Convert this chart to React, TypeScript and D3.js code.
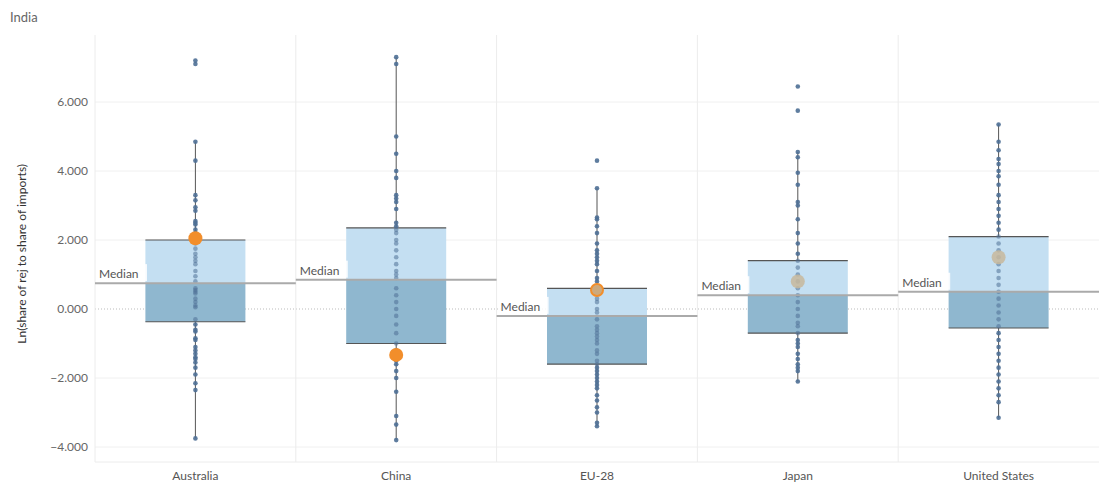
import React from "react";
import * as d3 from "d3";

const categories = ["Australia", "China", "EU-28", "Japan", "United States"];
const q1 = [-0.37, -1.0, -1.6, -0.7, -0.55];
const q3 = [2.0, 2.35, 0.6, 1.4, 2.1];
const medians = [0.75, 0.85, -0.2, 0.4, 0.5];
const whiskerLow = [-3.75, -3.8, -3.4, -2.1, -3.15];
const whiskerHigh = [4.85, 7.3, 3.5, 4.55, 5.35];
const highlight = [2.05, -1.33, 0.55, 0.8, 1.5];
const highlightOrange = [true, true, true, false, false];
const points: number[][] = [
  [7.2, 7.1, 4.85, 4.3, 3.3, 3.15, 2.95, 2.85, 2.55, 2.5, 2.45, 2.3, 2.2, 2.1, 1.9, 1.75, 1.6, 1.5, 1.4, 1.3, 1.1, 0.95, 0.8, 0.6, 0.55, 0.5, 0.45, 0.3, 0.2, 0.1, 0.05, -0.3, -0.45, -0.6, -0.65, -0.85, -0.9, -1.1, -1.2, -1.3, -1.4, -1.45, -1.55, -1.7, -1.9, -2.15, -2.35, -3.75],
  [7.3, 7.1, 5.0, 4.5, 4.0, 3.8, 3.3, 3.2, 3.1, 2.9, 2.5, 2.4, 2.3, 2.2, 2.0, 1.9, 1.7, 1.5, 1.3, 1.1, 1.0, 0.9, 0.6, 0.4, 0.2, 0.0, -0.2, -0.45, -0.7, -1.0, -1.2, -1.35, -1.5, -1.6, -1.8, -2.0, -2.4, -3.1, -3.35, -3.8],
  [4.3, 3.5, 2.65, 2.6, 2.4, 2.2, 1.9, 1.7, 1.6, 1.5, 1.4, 1.3, 1.1, 0.9, 0.8, 0.6, 0.5, 0.3, 0.2, 0.0, -0.1, -0.3, -0.5, -0.6, -0.7, -0.8, -0.9, -1.0, -1.2, -1.3, -1.5, -1.6, -1.7, -1.8, -1.9, -2.0, -2.1, -2.2, -2.3, -2.5, -2.65, -2.85, -3.0, -3.3, -3.4],
  [6.45, 5.75, 4.55, 4.4, 3.95, 3.6, 3.1, 3.0, 2.6, 2.2, 1.9, 1.6, 1.4, 1.2, 1.0, 0.8, 0.6, 0.4, 0.2, 0.0, -0.2, -0.4, -0.5, -0.7, -0.9, -1.0, -1.1, -1.3, -1.45, -1.6, -1.7, -1.8, -2.1],
  [5.35, 4.85, 4.6, 4.35, 4.2, 4.0, 3.85, 3.6, 3.3, 3.1, 2.9, 2.7, 2.5, 2.3, 2.1, 1.9, 1.7, 1.5, 1.3, 1.1, 0.9, 0.7, 0.5, 0.3, 0.1, -0.1, -0.3, -0.5, -0.7, -0.9, -1.1, -1.3, -1.5, -1.7, -1.9, -2.1, -2.3, -2.5, -2.7, -3.15],
];
const yTicks = [-4, -2, 0, 2, 4, 6];

export default function App() {
  const W = 1099, H = 484;
  const left = 95, right = 1099, top = 35, bottom = 462;
  const y = d3.scaleLinear().domain([0, 2]).range([309, 240]);
  const x = d3.scaleBand().domain(categories).range([left, right]);
  const fmt = d3.format(",.3f");
  const bw = 100;
  return (
    <svg width={W} height={H} style={{ position: "absolute", left: 0, top: 0, fontFamily: "Lato, 'Open Sans', sans-serif" }}>
      <text x={10} y={22} fontSize={13} fill="#666">India</text>
      {yTicks.map(t => (
        <g key={t}>
          <line x1={left} x2={right} y1={y(t)} y2={y(t)} stroke={t === 0 ? "#bbb" : "#f0f0f0"} strokeDasharray={t === 0 ? "1,2" : undefined} />
          <text x={88} y={y(t) + 4} fontSize={12} fill="#666" textAnchor="end">{fmt(t)}</text>
        </g>
      ))}
      {categories.map((c, i) => (
        <line key={c} x1={x(c)!} x2={x(c)!} y1={top} y2={bottom} stroke="#ececec" />
      ))}
      <line x1={left} x2={right} y1={bottom} y2={bottom} stroke="#ececec" />
      <text transform={`translate(26,${y(1.6)}) rotate(-90)`} fontSize={12} fill="#333" textAnchor="middle">Ln(share of rej to share of imports)</text>
      {categories.map((c, i) => {
        const x0 = x(c)!, cx = x0 + x.bandwidth() / 2;
        return (
          <g key={c}>
            <line x1={cx} x2={cx} y1={y(whiskerLow[i])} y2={y(whiskerHigh[i])} stroke="#555" strokeWidth={1} />
            <rect x={cx - bw / 2} width={bw} y={y(q3[i])} height={y(medians[i]) - y(q3[i])} fill="#c4dff2" />
            <rect x={cx - bw / 2} width={bw} y={y(medians[i])} height={y(q1[i]) - y(medians[i])} fill="#8fb7cf" />
            <line x1={cx - bw / 2} x2={cx + bw / 2} y1={y(q3[i])} y2={y(q3[i])} stroke="#555" strokeWidth={1.2} />
            <line x1={cx - bw / 2} x2={cx + bw / 2} y1={y(q1[i])} y2={y(q1[i])} stroke="#555" strokeWidth={1.2} />
            {points[i].map((v, j) => (
              <circle key={j} cx={cx} cy={y(v)} r={2.3} fill="#4e6f95" opacity={v <= q3[i] && v >= q1[i] ? 0.55 : 0.9} />
            ))}
            <circle cx={cx} cy={y(highlight[i])} r={7} fill={highlightOrange[i] ? "#f28e2b" : "#c8b99c"} opacity={highlightOrange[i] ? 1 : 0.85} />
            {i === 2 && <circle cx={cx} cy={y(highlight[i])} r={5} fill="#bdb5a0" opacity={0.7} />}
            <line x1={x0} x2={x0 + x.bandwidth()} y1={y(medians[i])} y2={y(medians[i])} stroke="#aaa" strokeWidth={2} />
            <rect x={x0 + 2} y={y(medians[i]) - 19} width={50} height={17} fill="white" opacity={0.85} />
            <text x={x0 + 4} y={y(medians[i]) - 5} fontSize={12} fill="#555">Median</text>
            <text x={cx} y={480} fontSize={12} fill="#555" textAnchor="middle">{c}</text>
          </g>
        );
      })}
    </svg>
  );
}
